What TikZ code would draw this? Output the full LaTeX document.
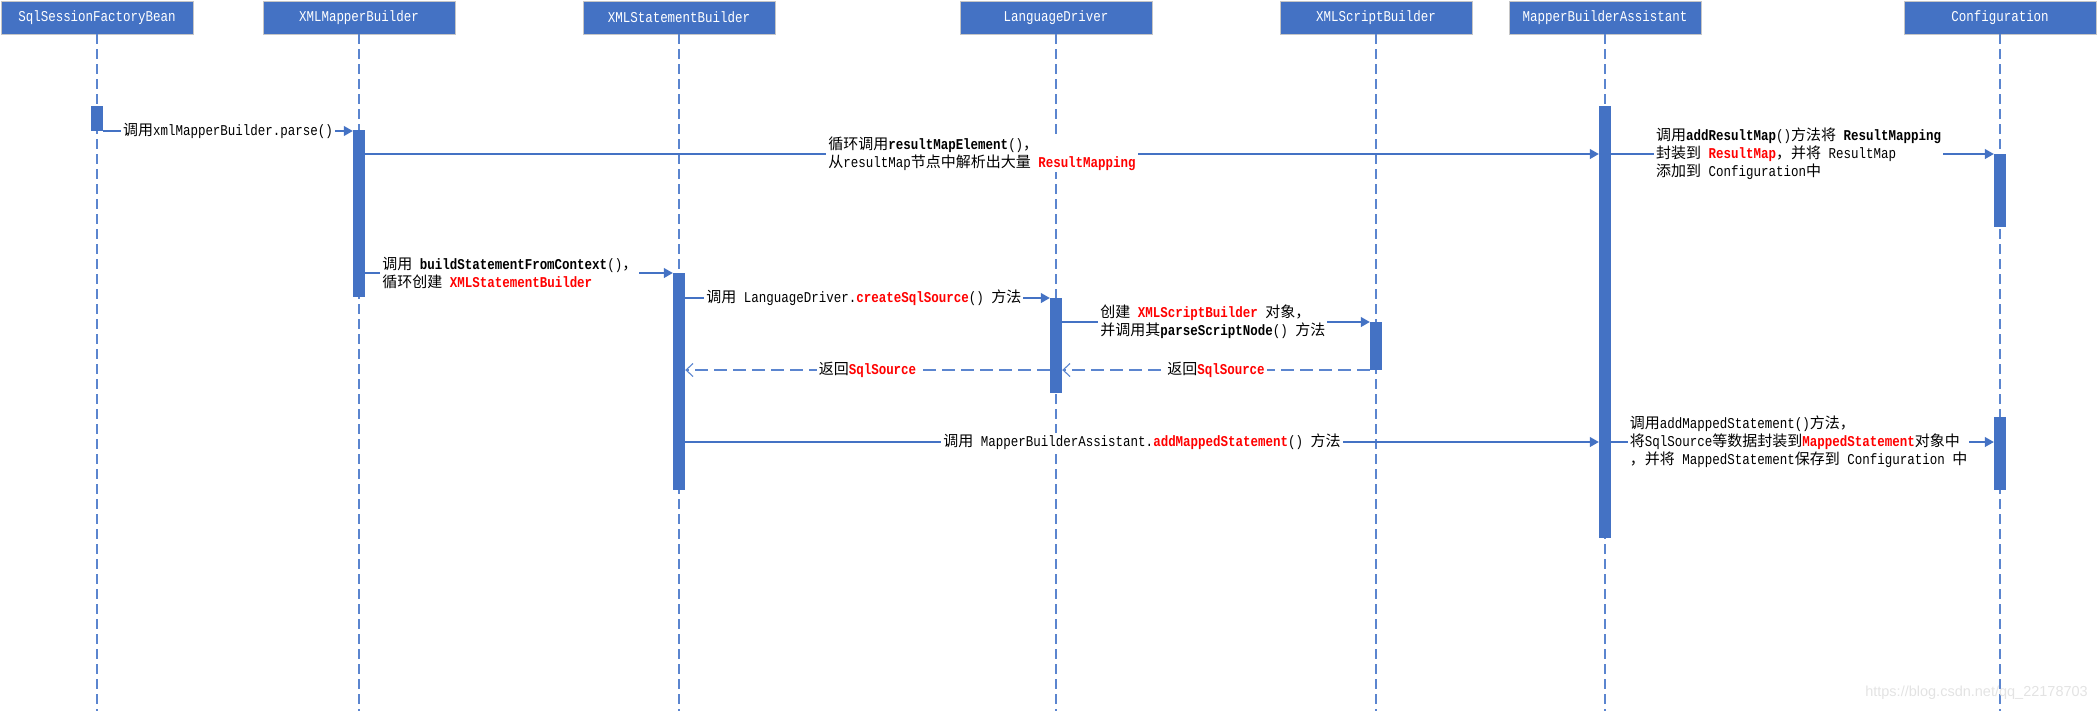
\documentclass[tikz,border=0pt]{standalone}
\usepackage{fontspec}
\setmainfont{Liberation Mono}[FakeStretch=0.833]
\newfontfamily\zhfont{Noto Sans CJK SC}
\newfontfamily\wmfont{Liberation Sans}
\usetikzlibrary{arrows.meta}
\definecolor{office}{HTML}{4472C4}
\definecolor{lifec}{HTML}{5B85CF}
\definecolor{redc}{HTML}{FF0000}
\newcommand\zh[1]{{\zhfont #1}}
\newcommand\rb[1]{\textcolor{redc}{\textbf{#1}}}
\begin{document}
\begin{tikzpicture}[x=1pt,y=-1pt,
  head/.style={fill=office, draw=gray!45, line width=0.8pt, text=white, minimum width=192pt, minimum height=33pt, inner sep=0pt, font=\fontsize{15}{18}\selectfont},
  life/.style={draw=lifec, line width=1.3pt, dash pattern=on 10pt off 5pt},
  bar/.style={fill=office, draw=none, minimum width=12pt, inner sep=0pt},
  msg/.style={draw=office, line width=1.1pt, -{Triangle[length=9pt,width=10pt]}},
  ret/.style={draw=lifec, line width=1.1pt, dash pattern=on 13pt off 6pt, -{Straight Barb[length=7pt,width=13pt,line width=1.1pt]}},
  lbl/.style={fill=white, inner xsep=2pt, inner ysep=1pt, align=left, text=black, font=\fontsize{15}{18}\selectfont},
  wm/.style={text=gray!22, font=\wmfont\fontsize{14.5}{17}\selectfont, inner sep=0pt}
]
\useasboundingbox (0,0) rectangle (2097,713);

% headers
\node[head] (h1) at (97,17.5) {SqlSessionFactoryBean};
\node[head] (h2) at (359,17.5) {XMLMapperBuilder};
\node[head] (h3) at (679,17.5) {XMLStatementBuilder};
\node[head] (h4) at (1056,17.5) {LanguageDriver};
\node[head] (h5) at (1376,17.5) {XMLScriptBuilder};
\node[head] (h6) at (1605,17.5) {MapperBuilderAssistant};
\node[head] (h7) at (2000,17.5) {Configuration};

% lifeline ends
\coordinate (e1) at (97,711);
\coordinate (e2) at (359,711);
\coordinate (e3) at (679,711);
\coordinate (e4) at (1056,711);
\coordinate (e5) at (1376,711);
\coordinate (e6) at (1605,711);
\coordinate (e7) at (2000,711);
\foreach \i in {1,...,7} { \draw[life] (h\i.south) -- (e\i); }

% activation bars
\node[bar, minimum height=25pt]  (a1) at (97,118.5) {};
\node[bar, minimum height=167pt] (a2) at (359,213.5) {};
\node[bar, minimum height=217pt] (a3) at (679,381.5) {};
\node[bar, minimum height=95pt]  (a4) at (1056,345.5) {};
\node[bar, minimum height=48pt]  (a5) at (1376,346) {};
\node[bar, minimum height=432pt] (a6) at (1605,322) {};
\node[bar, minimum height=73pt]  (a7) at (2000,190.5) {};
\node[bar, minimum height=73pt]  (a8) at (2000,453.5) {};

% message levels
\coordinate (y1) at (0,131);
\coordinate (y2) at (0,154);
\coordinate (y4) at (0,273);
\coordinate (y5) at (0,298);
\coordinate (y6) at (0,322);
\coordinate (y7) at (0,370);
\coordinate (y9) at (0,442);

% messages
\draw[msg] (a1.east |- y1) -- node[lbl] (t1) {\zh{调用}xmlMapperBuilder.parse()} (a2.west |- y1);

\draw[msg] (a2.east |- y2) -- node[lbl] (t2) {\zh{循环调用}\textbf{resultMapElement}()\zh{，}\\\zh{从}resultMap\zh{节点中解析出大量} \rb{ResultMapping}} (a6.west |- y2);

\draw[msg] (a6.east |- y2) -- node[lbl, pos=0.49] (t3) {\zh{调用}\textbf{addResultMap}()\zh{方法将} \textbf{ResultMapping}\\\zh{封装到} \rb{ResultMap}\zh{，并将} ResultMap\\\zh{添加到} Configuration\zh{中}} (a7.west |- y2);

\draw[msg] (a2.east |- y4) -- node[lbl, pos=0.47] (t4) {\zh{调用} \textbf{buildStatementFromContext}()\zh{，}\\\zh{循环创建} \rb{XMLStatementBuilder}} (a3.west |- y4);

\draw[msg] (a3.east |- y5) -- node[lbl, pos=0.49] (t5) {\zh{调用} LanguageDriver.\rb{createSqlSource}() \zh{方法}} (a4.west |- y5);

\draw[msg] (a4.east |- y6) -- node[lbl, pos=0.49] (t6) {\zh{创建} \rb{XMLScriptBuilder} \zh{对象，}\\\zh{并调用其}\textbf{parseScriptNode}() \zh{方法}} (a5.west |- y6);

\draw[ret] (a5.west |- y7) -- node[lbl, pos=0.5] (t7) {\zh{返回}\rb{SqlSource}} (a4.east |- y7);

\draw[ret] (a4.west |- y7) -- node[lbl, pos=0.5] (t8) {\zh{返回}\rb{SqlSource}} (a3.east |- y7);

\draw[msg] (a3.east |- y9) -- node[lbl, pos=0.5] (t9) {\zh{调用} MapperBuilderAssistant.\rb{addMappedStatement}() \zh{方法}} (a6.west |- y9);

\draw[msg] (a6.east |- y9) -- node[lbl, pos=0.49] (t10) {\zh{调用}addMappedStatement()\zh{方法，}\\\zh{将}SqlSource\zh{等数据封装到}\rb{MappedStatement}\zh{对象中}\\\zh{，并将} MappedStatement\zh{保存到} Configuration \zh{中}} (a8.west |- y9);

% watermark
\node[wm, anchor=east] (wm) at (2088,693) {https://blog.csdn.net/qq\_22178703};
\end{tikzpicture}
\end{document}
